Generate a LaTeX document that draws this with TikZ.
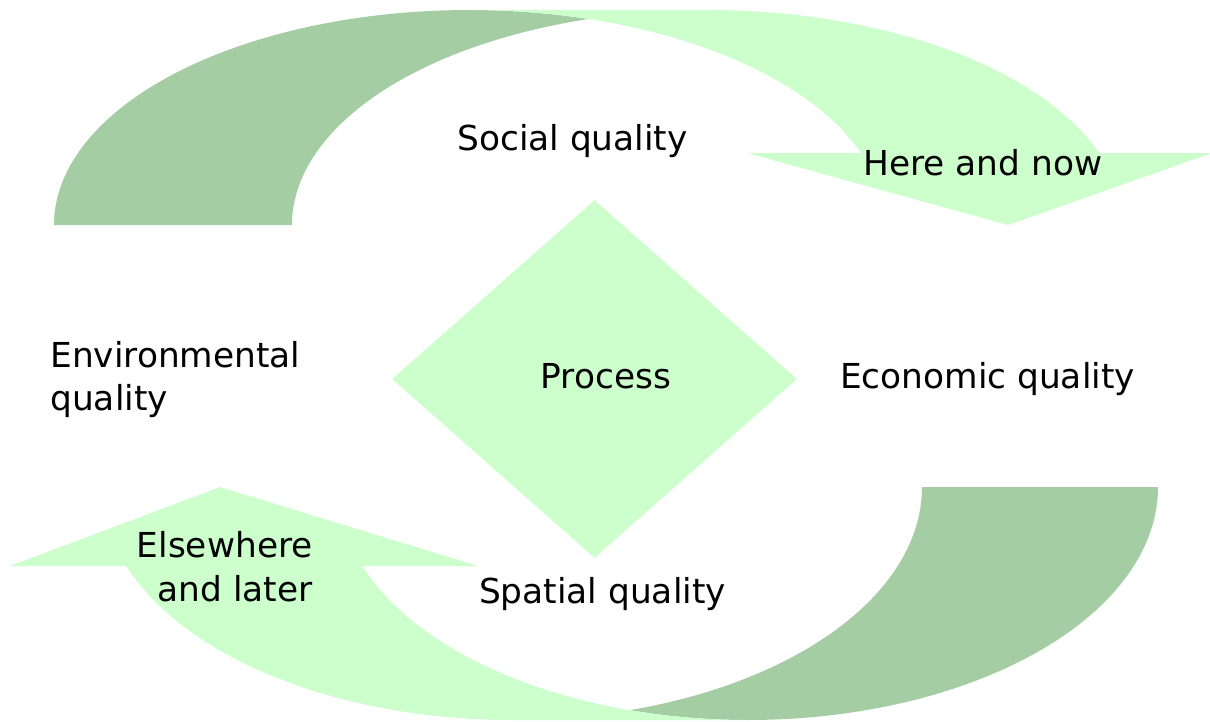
\documentclass[tikz,border=0pt]{standalone}
\usepackage{fontspec}
\setmainfont{DejaVu Sans}
\usepackage{tikz}
\usetikzlibrary{positioning,shapes.geometric}
\definecolor{lightgreen}{HTML}{CCFFCC}
\definecolor{darkgreen}{HTML}{A4CDA4}

\begin{document}
\begin{tikzpicture}[
  x=0.02cm, y=-0.02cm,
  front/.style={fill=lightgreen},
  back/.style={fill=darkgreen},
  lbl/.style={font=\fontsize{19.56}{24.9}\selectfont, inner sep=0pt},
  rhomb/.style={diamond, fill=lightgreen, minimum width=8.1cm, minimum height=7.16cm, inner sep=0pt}
  ]
  \useasboundingbox[fill=white] (0,0) rectangle (1210,721);

  % Upper arrow
  % Back part
  \path[back] (54,225) arc[start angle=180, end angle=286.64, x radius=415.5, y radius=215]
    arc[start angle=253.36, end angle=180, x radius=415.5, y radius=215] -- cycle;
  % Front part with head
  \path[front] (1099,153) arc[start angle=340.44, end angle=270, x radius=415.5, y radius=215]
    -- (469.5,10) arc[start angle=270, end angle=340.44, x radius=415.5, y radius=215]
    -- (747,153) -- (1008,225) -- (1212,153) -- cycle;

  % Lower arrow
  % Back part
  \path[back] (1158,487) arc[start angle=0, end angle=106.73, x radius=410, y radius=233]
    arc[start angle=73.27, end angle=0, x radius=410, y radius=233] -- cycle;
  % Front part with head
  \path[front] (126.3,566) arc[start angle=160.18, end angle=90, x radius=410, y radius=233]
    -- (748,720) arc[start angle=90, end angle=160.18, x radius=410, y radius=233]
    -- (478,566) -- (220,487) -- (10,566) -- cycle;

  % Diamond
  \node[rhomb] (process) at (594.5,379) {};
  \node[lbl, anchor=base] (proctext) at (606,388) {Process};

  % Labels
  \node[lbl, anchor=base] (social) at (572.5,150) {Social quality};
  \node[lbl, anchor=base] (herenow) at (983,175) {Here and now};
  \node[lbl, anchor=base] (economic) at (987.5,388) {Economic quality};
  \node[lbl, anchor=base] (spatial) at (602.5,603) {Spatial quality};
  \node[lbl, align=left, anchor=west] (environ) at (50,379.5) {Environmental\\quality};
  \node[lbl, align=right, anchor=east] (elsewhere) at (313,566.5) {Elsewhere\\and later};

\end{tikzpicture}
\end{document}
